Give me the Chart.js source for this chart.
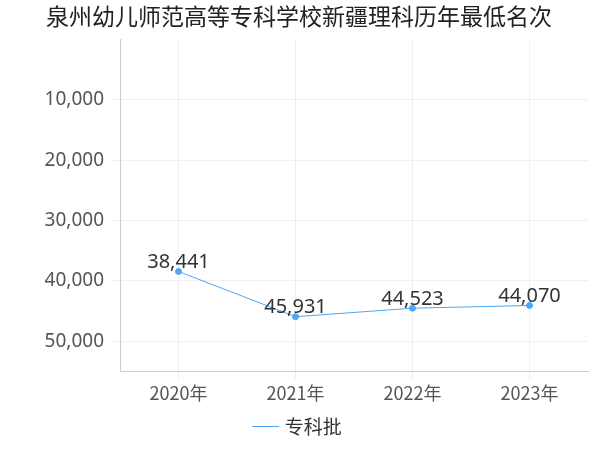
<!DOCTYPE html>
<html><head><meta charset="utf-8">
<script src="https://cdn.jsdelivr.net/npm/chart.js@4"></script>
<style>body{margin:0}#wrap{width:600px;height:450px}</style>
</head><body><div id="wrap"><canvas id="c"></canvas></div>
<script>
const years = ['2020年', '2021年', '2022年', '2023年'];
const ranks = [38441, 45931, 44523, 44070];
const seriesName = '专科批';

const labelPlugin = {
  id: 'labels',
  afterDatasetsDraw(chart) {
    const ctx = chart.ctx;
    ctx.save();
    ctx.font = '20px "Noto Sans", sans-serif';
    ctx.fillStyle = '#333';
    ctx.textAlign = 'center';
    ctx.textBaseline = 'bottom';
    chart.getDatasetMeta(0).data.forEach((p, i) => {
      ctx.fillText(ranks[i].toLocaleString('en-US'), p.x, p.y + 1);
    });
    ctx.restore();
  }
};

new Chart(document.getElementById('c'), {
  type: 'line',
  data: {
    labels: years,
    datasets: [{
      label: seriesName,
      data: ranks,
      borderColor: '#4da6f5',
      backgroundColor: '#4da6f5',
      borderWidth: 1,
      pointRadius: 3,
      pointStyle: 'circle'
    }]
  },
  options: {
    responsive: true,
    maintainAspectRatio: false,
    animation: false,
    layout: { padding: { left: 10, right: 12, top: 0, bottom: 4 } },
    plugins: {
      title: { display: true, text: '泉州幼儿师范高等专科学校新疆理科历年最低名次',
        font: { size: 23, family: '"Noto Sans CJK SC", sans-serif', weight: 'normal' }, color: '#222', padding: { top: 2, bottom: 10 } },
      legend: { position: 'bottom',
        labels: { usePointStyle: true, pointStyle: 'line', boxWidth: 20, font: { size: 19, family: '"Noto Sans CJK SC", sans-serif' }, color: '#333' } }
    },
    scales: {
      x: { offset: true, grid: { color: '#f0f0f0' }, border: { color: '#ccc' },
        ticks: { font: { size: 18, family: '"Noto Sans CJK SC", sans-serif' }, color: '#555' } },
      y: { reverse: true, min: 0, max: 55000,
        grid: { color: '#f0f0f0' }, border: { color: '#ccc' },
        afterFit(axis) { axis.width = 110; },
        afterBuildTicks(axis) { axis.ticks = [10000, 20000, 30000, 40000, 50000].map(v => ({ value: v })); },
        ticks: { padding: 8, font: { size: 19, family: '"Noto Sans", sans-serif' }, color: '#555',
          callback: v => v.toLocaleString('en-US') } }
    }
  },
  plugins: [labelPlugin]
});
</script></body></html>
